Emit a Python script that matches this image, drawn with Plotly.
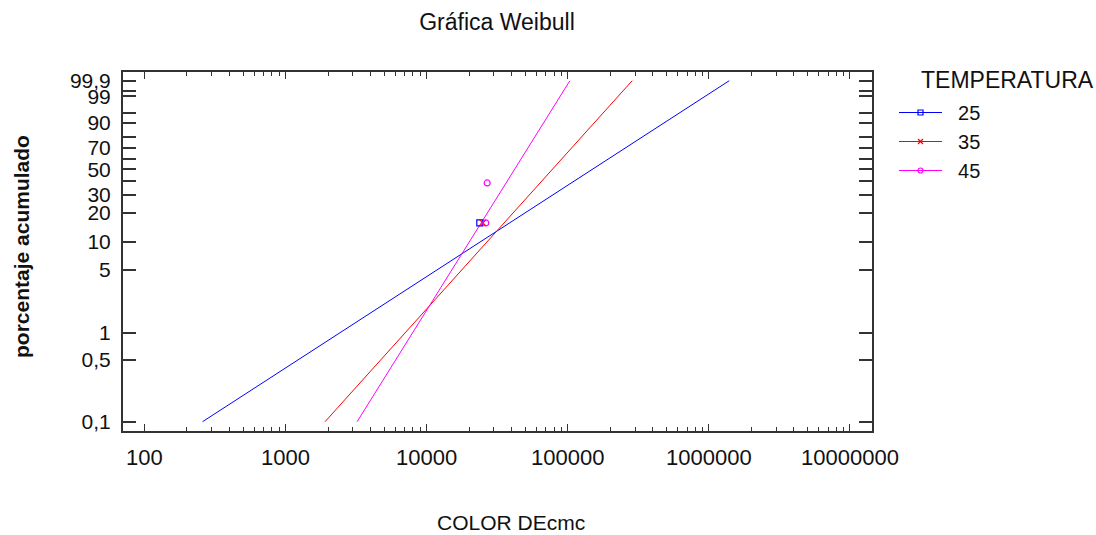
import numpy as np
import plotly.graph_objects as go

# ---------------- data ----------------
temperaturas = ["25", "35", "45"]
colores = ["#0000FF", "#FF0000", "#FF00FF"]
simbolos = ["square-open", "x-thin-open", "circle-open"]

# fitted Weibull lines: x at 0.1 % and at 99.9 %
linea_p = [0.1, 99.9]
linea_x_25 = [258, 1393000]
linea_x_35 = [1905, 286000]
linea_x_45 = [3214, 103500]

# observed points
pts_x_25 = [23800]
pts_p_25 = [15.9]
pts_x_35 = [25000]
pts_p_35 = [15.9]
pts_x_45 = [26250, 26850]
pts_p_45 = [15.9, 38.6]

# axis ticks
y_tick_pct = [0.1, 0.5, 1, 5, 10, 20, 30, 40, 50, 60, 70, 80, 90, 95, 99, 99.5, 99.9]
y_tick_txt = ["0,1", "0,5", "1", "5", "10", "20", "30", "", "50", "", "70", "", "90", "", "99", "", "99,9"]
x_tick_vals = [100, 1000, 10000, 100000, 1000000, 10000000]
x_tick_txt = ["100", "1000", "10000", "100000", "1000000", "10000000"]


def weib(p):
    p = np.asarray(p, dtype=float) / 100.0
    return np.log(-np.log(1.0 - p))


FONT = "Liberation Sans, Arial, sans-serif"
FRAME = "#333333"

lineas = [linea_x_25, linea_x_35, linea_x_45]
pts_x = [pts_x_25, pts_x_35, pts_x_45]
pts_p = [pts_p_25, pts_p_35, pts_p_45]

fig = go.Figure()
for i, t in enumerate(temperaturas):
    fig.add_trace(go.Scatter(x=lineas[i], y=weib(linea_p), mode="lines",
                             line=dict(color=colores[i], width=1),
                             showlegend=False, hoverinfo="skip"))
for i, t in enumerate(temperaturas):
    fig.add_trace(go.Scatter(x=pts_x[i], y=weib(pts_p[i]), mode="markers",
                             marker=dict(symbol=simbolos[i], size=6, color=colores[i],
                                         line=dict(width=1.2, color=colores[i])),
                             showlegend=False))
for i, t in enumerate(temperaturas):
    fig.add_trace(go.Scatter(x=[None], y=[None], mode="lines+markers",
                             name="\u00a0\u00a0" + t,
                             line=dict(color=colores[i], width=1),
                             marker=dict(symbol=simbolos[i], size=5, color=colores[i],
                                         line=dict(width=1.2, color=colores[i]))))

minor_vals = [m * 10 ** d for d in range(2, 7) for m in range(2, 10)]

L, R, T, B = 123, 872, 72, 431
W, H = 1096, 535
pw, ph = R - L, B - T

fig.update_layout(
    width=W, height=H,
    margin=dict(l=L, r=W - R, t=T, b=H - B, autoexpand=False),
    paper_bgcolor="white", plot_bgcolor="white",
    font=dict(family=FONT, size=20, color="#111111"),
    title=dict(text="Gráfica Weibull", x=(497 - L) / pw, xref="paper", xanchor="center",
               y=1 - 22 / H, yref="container", yanchor="middle",
               font=dict(family=FONT, size=23, color="#111111")),
    xaxis=dict(type="log", range=[1.848, 7.156], tickmode="array",
               tickvals=x_tick_vals, ticktext=x_tick_txt, automargin=False,
               ticks="inside", ticklen=7, tickwidth=1, tickcolor=FRAME,
               showline=True, linewidth=2, linecolor=FRAME, mirror="allticks",
               showgrid=False, zeroline=False, ticklabelstandoff=6,
               tickfont=dict(size=22),
               minor=dict(tickmode="array", tickvals=minor_vals, ticks="inside",
                          ticklen=4, tickwidth=1, tickcolor=FRAME, showgrid=False)),
    yaxis=dict(range=[-7.148, 2.159], tickmode="array", automargin=False,
               tickvals=list(weib(y_tick_pct)), ticktext=y_tick_txt,
               ticks="inside", ticklen=13, tickwidth=2, tickcolor=FRAME,
               showline=True, linewidth=2, linecolor=FRAME, mirror="allticks",
               showgrid=False, zeroline=False, ticklabelstandoff=6,
               tickfont=dict(size=21)),
    legend=dict(xref="paper", yref="paper", x=(894 - L) / pw, y=(B - 93) / ph,
                xanchor="left", yanchor="top", font=dict(size=20), itemwidth=43,
                bgcolor="rgba(0,0,0,0)", borderwidth=0),
    annotations=[
        dict(text="TEMPERATURA", xref="paper", yref="paper",
             x=(919 - L) / pw, y=(B - 80) / ph, xanchor="left", yanchor="middle",
             showarrow=False, font=dict(size=23)),
        dict(text="COLOR DEcmc", xref="paper", yref="paper",
             x=(511 - L) / pw, y=(B - 522) / ph, xanchor="center", yanchor="middle",
             showarrow=False, font=dict(size=21)),
        dict(text="<b>porcentaje acumulado</b>", xref="paper", yref="paper",
             x=(21 - L) / pw, y=(B - 247) / ph, xanchor="center", yanchor="middle",
             textangle=-90, showarrow=False, font=dict(size=21)),
    ],
)

fig.write_html("out.html")
